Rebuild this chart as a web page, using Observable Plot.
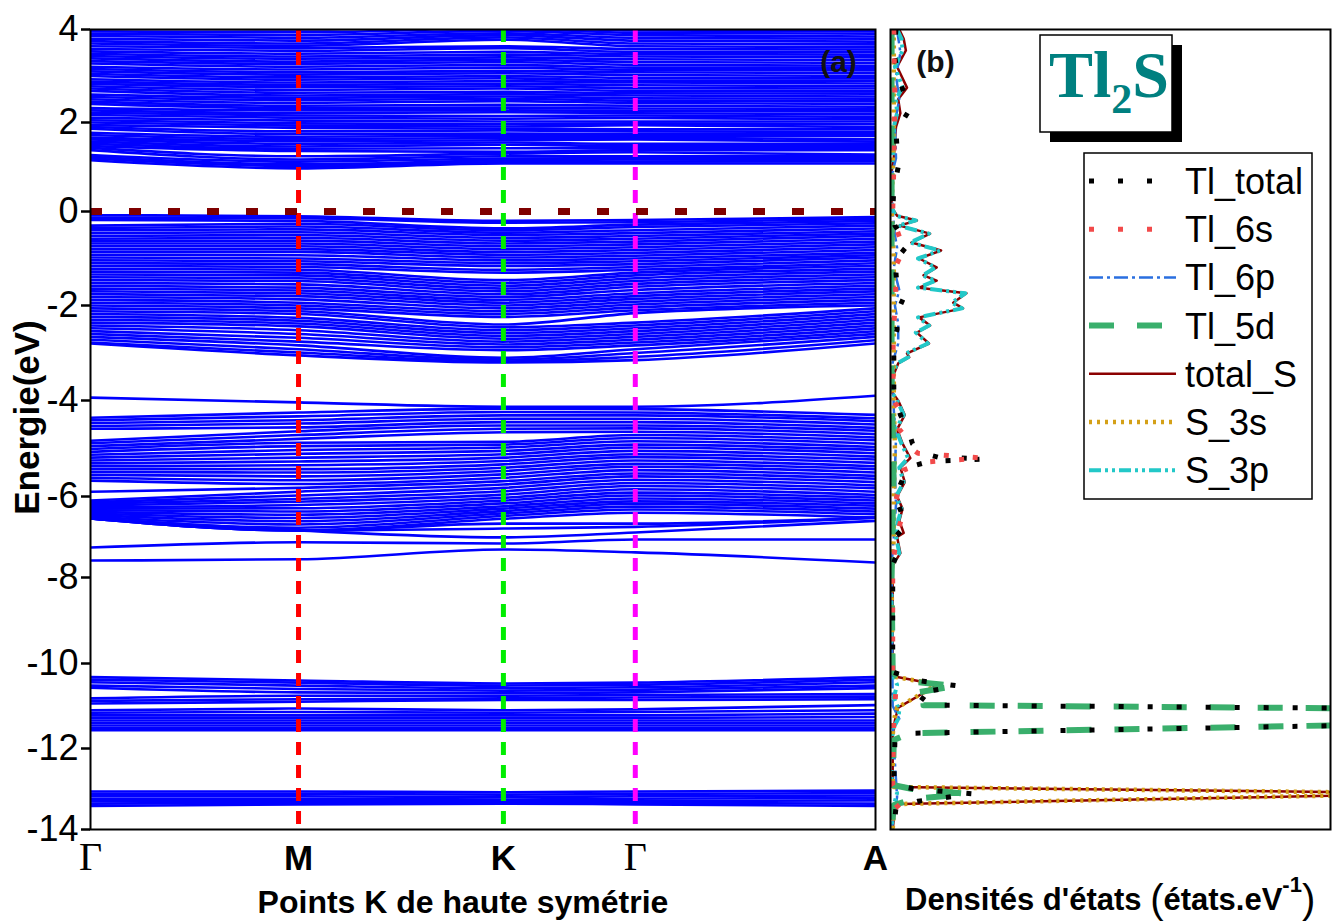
<!DOCTYPE html>
<html><head><meta charset="utf-8">
<script src="https://cdn.jsdelivr.net/npm/d3@7"></script>
<script src="https://cdn.jsdelivr.net/npm/@observablehq/plot@0.6"></script>
<style>
body{margin:0;background:#fff;}
#wrap{position:relative;width:1343px;height:922px;overflow:hidden;font-family:"Liberation Sans",Arial,sans-serif;}
</style></head><body><div id="wrap"></div>
<script>
// ---------- data ----------
const kLabels = ["Γ","M","K","Γ","A"];
const kPositions = [0, 0.265, 0.526, 0.694, 1];
const yTicks = [4,2,0,-2,-4,-6,-8,-10,-12,-14];
// rows of the energy ticks in the original figure (its energy axis is not evenly spaced)
const tickRows = [29,122,211,305,400,496,577,663,748,829];
const fermiLevel = [0];

// band energies (eV) at [Γ, M, K, Γ, A]
const conductionBands = [
 [1.15,0.97,1.08,1.08,1.08],[1.19,1.02,1.11,1.12,1.13],[1.23,1.06,1.15,1.17,1.16],[1.27,1.12,1.19,1.20,1.20],
 [1.38,1.17,1.24,1.24,1.25],[1.43,1.24,1.30,1.33,1.28],[1.47,1.36,1.34,1.38,1.38],[1.52,1.41,1.42,1.42,1.43],
 [1.57,1.46,1.50,1.47,1.48],[1.62,1.52,1.55,1.52,1.52],[1.66,1.58,1.60,1.62,1.57],[1.72,1.63,1.65,1.66,1.62],
 [1.77,1.68,1.70,1.70,1.70],[1.86,1.74,1.75,1.74,1.74],[1.90,1.80,1.82,1.80,1.79],[1.94,1.88,1.86,1.85,1.85],
 [2.00,1.93,1.91,1.94,1.90],[2.05,1.98,1.96,1.98,1.96],[2.10,2.04,2.02,2.02,2.02],[2.16,2.10,2.08,2.10,2.07],
 [2.21,2.15,2.14,2.15,2.12],[2.26,2.20,2.22,2.20,2.18],[2.31,2.26,2.26,2.25,2.24],[2.40,2.31,2.32,2.30,2.29],
 [2.45,2.36,2.38,2.36,2.34],[2.50,2.42,2.46,2.42,2.40],[2.55,2.48,2.51,2.47,2.46],[2.60,2.53,2.56,2.52,2.51],
 [2.68,2.58,2.61,2.58,2.56],[2.73,2.64,2.66,2.63,2.62],[2.78,2.70,2.73,2.68,2.67],[2.83,2.76,2.78,2.74,2.73],
 [2.88,2.81,2.83,2.80,2.78],[2.93,2.86,2.89,2.86,2.84],[3.00,2.92,2.95,2.90,2.90],[3.05,2.97,3.00,2.96,2.95],
 [3.10,3.03,3.06,3.02,3.00],[3.15,3.08,3.11,3.08,3.06],[3.20,3.14,3.18,3.13,3.12],[3.27,3.20,3.24,3.18,3.17],
 [3.32,3.26,3.30,3.24,3.22],[3.38,3.31,3.35,3.30,3.28],[3.43,3.37,3.40,3.36,3.34],[3.48,3.42,3.46,3.42,3.40],
 [3.53,3.48,3.52,3.47,3.46],[3.58,3.54,3.60,3.52,3.52],[3.64,3.60,3.64,3.58,3.57],[3.70,3.65,3.78,3.64,3.62],
 [3.75,3.70,3.83,3.70,3.68],[3.80,3.76,3.88,3.76,3.74],[3.86,3.82,3.92,3.82,3.80],[3.91,3.88,3.97,3.88,3.85],
 [3.96,3.94,4.02,3.93,3.91],[4.02,4.00,4.06,3.98,3.96],[4.08,4.06,4.12,4.04,4.02]
];
const valenceBands = [
 [-0.08,-0.10,-0.20,-0.18,-0.12],[-0.13,-0.14,-0.24,-0.23,-0.16],[-0.18,-0.20,-0.36,-0.28,-0.20],[-0.30,-0.26,-0.40,-0.33,-0.25],
 [-0.35,-0.32,-0.45,-0.40,-0.30],[-0.40,-0.38,-0.50,-0.46,-0.36],[-0.46,-0.44,-0.56,-0.52,-0.42],[-0.52,-0.50,-0.62,-0.58,-0.47],
 [-0.58,-0.56,-0.68,-0.64,-0.52],[-0.63,-0.62,-0.74,-0.70,-0.58],[-0.68,-0.68,-0.80,-0.76,-0.64],[-0.74,-0.74,-0.86,-0.82,-0.70],
 [-0.80,-0.80,-0.92,-0.88,-0.76],[-0.86,-0.86,-0.98,-0.94,-0.82],[-0.92,-0.93,-1.04,-1.00,-0.88],[-0.98,-1.00,-1.10,-1.06,-0.93],
 [-1.04,-1.06,-1.16,-1.12,-0.98],[-1.10,-1.12,-1.24,-1.18,-1.04],[-1.16,-1.18,-1.30,-1.24,-1.10],[-1.22,-1.24,-1.46,-1.30,-1.16],
 [-1.28,-1.30,-1.52,-1.36,-1.22],[-1.34,-1.36,-1.58,-1.42,-1.28],[-1.40,-1.42,-1.64,-1.48,-1.34],[-1.46,-1.48,-1.70,-1.54,-1.40],
 [-1.52,-1.55,-1.76,-1.60,-1.46],[-1.58,-1.62,-1.82,-1.67,-1.52],[-1.64,-1.68,-1.88,-1.74,-1.58],[-1.70,-1.74,-1.94,-1.80,-1.64],
 [-1.76,-1.80,-2.00,-1.86,-1.70],[-1.82,-1.87,-2.06,-1.92,-1.76],[-1.88,-1.94,-2.12,-1.98,-1.82],[-1.94,-2.00,-2.18,-2.04,-1.88],
 [-2.00,-2.06,-2.24,-2.10,-1.94],[-2.06,-2.12,-2.40,-2.16,-2.00],[-2.12,-2.18,-2.46,-2.36,-2.06],[-2.18,-2.26,-2.52,-2.42,-2.12],
 [-2.24,-2.32,-2.58,-2.48,-2.18],[-2.30,-2.38,-2.64,-2.54,-2.24],[-2.36,-2.44,-2.70,-2.60,-2.30],[-2.42,-2.52,-2.76,-2.66,-2.36],
 [-2.48,-2.60,-2.82,-2.72,-2.42],[-2.54,-2.68,-2.88,-2.78,-2.48],[-2.60,-2.76,-2.94,-2.84,-2.54],[-2.66,-2.84,-3.10,-2.92,-2.60],
 [-2.72,-2.92,-3.14,-3.00,-2.66],[-2.78,-2.99,-3.18,-3.08,-2.73],[-2.80,-3.05,-3.20,-3.15,-2.80]
];
const lowerValenceBands = [
 [-3.94,-4.04,-4.13,-4.13,-3.90],
 [-4.36,-4.25,-4.17,-4.18,-4.30],[-4.41,-4.33,-4.24,-4.25,-4.37],[-4.47,-4.41,-4.31,-4.31,-4.43],[-4.53,-4.48,-4.38,-4.38,-4.50],
 [-4.59,-4.56,-4.45,-4.45,-4.57],[-4.84,-4.64,-4.52,-4.52,-4.63],[-4.89,-4.72,-4.59,-4.58,-4.70],[-4.95,-4.80,-4.66,-4.65,-4.77],
 [-5.01,-4.88,-4.86,-4.72,-4.83],[-5.07,-4.95,-4.92,-4.78,-4.90],[-5.13,-5.03,-4.98,-4.85,-4.97],[-5.19,-5.11,-5.05,-4.92,-5.03],
 [-5.25,-5.19,-5.12,-4.98,-5.10],[-5.31,-5.27,-5.19,-5.05,-5.17],[-5.37,-5.35,-5.26,-5.12,-5.23],[-5.43,-5.43,-5.33,-5.18,-5.30],
 [-5.49,-5.50,-5.40,-5.25,-5.37],[-5.55,-5.58,-5.47,-5.32,-5.43],[-5.61,-5.66,-5.54,-5.38,-5.50],[-5.67,-5.74,-5.61,-5.45,-5.57],
 [-5.90,-5.82,-5.68,-5.52,-5.63],[-6.10,-5.90,-5.75,-5.58,-5.70],[-6.14,-5.98,-5.82,-5.65,-5.77],[-6.18,-6.06,-5.89,-5.72,-5.83],
 [-6.22,-6.13,-5.96,-5.78,-5.90],[-6.26,-6.21,-6.03,-5.85,-5.97],[-6.30,-6.29,-6.10,-5.92,-6.03],[-6.34,-6.37,-6.17,-5.98,-6.10],
 [-6.38,-6.45,-6.24,-6.05,-6.17],[-6.42,-6.53,-6.30,-6.12,-6.23],[-6.46,-6.61,-6.36,-6.18,-6.30],[-6.50,-6.69,-6.42,-6.25,-6.37],
 [-6.54,-6.77,-6.48,-6.32,-6.44],[-6.54,-6.84,-6.55,-6.40,-6.52],
 [-6.54,-6.84,-6.67,-6.67,-6.52],[-6.54,-6.84,-6.79,-6.75,-6.52],[-6.54,-6.84,-7.01,-6.89,-6.60],
 [-7.26,-7.13,-7.16,-7.06,-7.06],[-7.58,-7.55,-7.31,-7.38,-7.63]
];
const semicoreBands = [
 [-10.32,-10.40,-10.47,-10.45,-10.32],[-10.38,-10.45,-10.52,-10.50,-10.38],[-10.44,-10.52,-10.58,-10.56,-10.44],
 [-10.52,-10.60,-10.64,-10.62,-10.52],[-10.57,-10.68,-10.70,-10.68,-10.58],[-10.82,-10.76,-10.76,-10.74,-10.72],
 [-10.88,-10.84,-10.82,-10.80,-10.78],[-10.94,-10.90,-10.86,-10.86,-10.84],[-11.10,-11.06,-11.10,-11.08,-10.98],
 [-11.16,-11.14,-11.16,-11.14,-11.10],[-11.22,-11.22,-11.22,-11.22,-11.18],[-11.28,-11.28,-11.28,-11.28,-11.26],
 [-11.34,-11.34,-11.34,-11.34,-11.34],[-11.40,-11.40,-11.40,-11.40,-11.40],[-11.46,-11.46,-11.46,-11.46,-11.46],
 [-11.52,-11.52,-11.52,-11.52,-11.52],[-11.57,-11.57,-11.57,-11.57,-11.57]
];
const deepBands = [
 [-13.06,-13.06,-13.08,-13.06,-13.04],[-13.12,-13.12,-13.14,-13.12,-13.10],[-13.18,-13.18,-13.20,-13.18,-13.16],
 [-13.24,-13.24,-13.26,-13.24,-13.22],[-13.30,-13.30,-13.30,-13.30,-13.28],[-13.36,-13.34,-13.34,-13.34,-13.36],
 [-13.42,-13.38,-13.36,-13.38,-13.42]
];

// DOS: [energy (eV), states/eV]
const dosTlTotal = [[4,0.5],[3.5,0.3],[2.9,0.8],[2.3,1.8],[1.8,0.5],[1.0,0.7],[0.5,0.3],[0.0,0.2],[-0.3,0.4],[-0.47,0.9],[-0.7,0.5],[-0.87,1.4],[-1.1,0.6],[-1.32,0.5],[-1.6,0.6],[-1.83,1.2],[-2.2,0.5],[-2.5,0.6],[-2.8,0.3],[-3.2,0.3],[-3.8,0.3],[-4.3,0.9],[-4.6,1.6],[-4.9,2.0],[-5.1,3.0],[-5.18,4.3],[-5.22,8.6],[-5.27,3.5],[-5.4,1.5],[-5.7,1.0],[-6.0,0.4],[-6.4,1.0],[-6.7,1.5],[-7.0,0.4],[-7.4,0.6],[-7.7,0.2],[-10.2,0.2],[-10.4,2.5],[-10.53,6.2],[-10.7,2.3],[-10.9,3.3],[-10.98,3.3],[-11.17,104],[-11.64,2.0],[-11.8,0.4],[-12.9,0.3],[-13.0,2.2],[-13.12,7.5],[-13.3,2.5],[-13.45,0.5],[-14,0.3]];
const dosTl6s = [[4,0.3],[2.5,0.4],[1,0.3],[0,0.2],[-0.4,0.6],[-0.8,1.2],[-1.2,0.4],[-1.8,0.5],[-2.4,0.3],[-3.2,0.2],[-4.0,0.3],[-4.36,1.2],[-4.6,0.8],[-4.77,1.4],[-4.98,1.8],[-5.1,2.5],[-5.2,8.4],[-5.28,3.2],[-5.45,1.2],[-5.8,0.8],[-6.2,0.4],[-6.55,1.0],[-6.9,0.6],[-7.3,0.4],[-7.7,0.2],[-10.3,0.2],[-10.6,0.5],[-11.3,0.3],[-12.9,0.2],[-13.3,1.2],[-13.5,0.3],[-14,0.2]];
const dosTl6p = [[4,0.6],[3.5,0.9],[3.0,0.5],[2.5,0.8],[2.0,0.4],[1.2,0.5],[0.8,0.1],[0,0.2],[-0.5,0.4],[-0.77,0.6],[-1.2,0.3],[-1.68,0.8],[-2.0,0.4],[-2.38,0.7],[-2.8,0.7],[-3.2,0.2],[-4.2,0.3],[-4.8,0.5],[-5.5,0.4],[-6.2,0.5],[-7.0,0.3],[-7.7,0.1],[-11.0,0.2],[-11.3,0.8],[-11.5,0.2],[-13.2,0.6],[-14,0.1]];
const dosTl5d = [[4,0.1],[0,0.1],[-4,0.1],[-5.2,0.3],[-8,0.1],[-10.2,0.2],[-10.4,1.0],[-10.53,5.9],[-10.7,2.0],[-10.9,3.0],[-10.98,3.0],[-11.17,100],[-11.64,1.8],[-11.8,0.3],[-12.9,0.2],[-13.0,2.0],[-13.12,7.0],[-13.25,2.0],[-13.4,0.3],[-14,0.1]];
const dosTotalS = [[4,0.8],[3.8,1.2],[3.55,1.4],[3.2,0.6],[2.75,1.5],[2.5,0.7],[2.2,0.9],[1.9,0.5],[1.6,0.4],[1.2,0.3],[0.9,0.1],[0.1,0.1],[-0.09,0.6],[-0.19,2.4],[-0.30,0.8],[-0.47,3.6],[-0.66,1.9],[-0.83,4.6],[-1.0,2.6],[-1.19,4.2],[-1.36,3.0],[-1.47,4.2],[-1.62,2.6],[-1.74,6.9],[-1.94,5.7],[-2.06,6.6],[-2.25,2.6],[-2.42,3.6],[-2.57,2.4],[-2.8,3.5],[-3.01,1.5],[-3.09,1.7],[-3.22,0.7],[-3.5,0.2],[-3.85,0.2],[-4.0,0.7],[-4.3,1.3],[-4.6,0.6],[-4.9,1.1],[-5.2,1.8],[-5.4,0.9],[-5.7,1.3],[-6.0,0.6],[-6.3,1.1],[-6.6,0.8],[-6.9,1.2],[-7.0,0.6],[-7.4,0.9],[-7.7,0.2],[-10.2,0.2],[-10.31,0.5],[-10.5,4.3],[-11.04,0.7],[-11.34,0.4],[-11.7,0.2],[-12.8,0.2],[-12.95,0.4],[-13.11,51],[-13.37,0.9],[-13.5,0.4],[-14,0.2]];
const dosS3s = [[4,0.3],[3,0.3],[2,0.3],[1,0.2],[0,0.1],[-1,0.3],[-2,0.3],[-3,0.3],[-4,0.3],[-5,0.4],[-6,0.3],[-7,0.3],[-8,0.1],[-10.2,0.2],[-10.31,0.4],[-10.5,4.2],[-11.04,0.6],[-11.34,0.3],[-11.7,0.2],[-12.8,0.2],[-12.95,0.3],[-13.11,50],[-13.37,0.8],[-13.5,0.3],[-14,0.2]];
const dosS3p = [[4,0.6],[3.8,1.0],[3.55,1.1],[3.2,0.4],[2.75,1.1],[2.5,0.5],[2.2,0.6],[1.9,0.3],[1.6,0.3],[1.2,0.2],[0.9,0.1],[0.1,0.1],[-0.09,0.45],[-0.19,2.3],[-0.30,0.7],[-0.47,3.5],[-0.66,1.8],[-0.83,4.5],[-1.0,2.5],[-1.19,4.1],[-1.36,2.9],[-1.47,4.1],[-1.62,2.5],[-1.74,6.8],[-1.94,5.6],[-2.06,6.5],[-2.25,2.5],[-2.42,3.5],[-2.57,2.3],[-2.8,3.4],[-3.01,1.4],[-3.09,1.6],[-3.22,0.6],[-3.5,0.1],[-3.85,0.2],[-4.0,0.6],[-4.3,1.2],[-4.6,0.5],[-4.9,1.0],[-5.2,1.6],[-5.4,0.8],[-5.7,1.2],[-6.0,0.5],[-6.3,1.0],[-6.6,0.7],[-7.0,0.5],[-7.4,0.8],[-7.7,0.1],[-9,0.1],[-10.2,0.1],[-10.5,0.6],[-10.8,0.3],[-11.1,0.8],[-11.3,0.7],[-11.5,0.3],[-11.8,0.1],[-12.8,0.1],[-13.1,0.6],[-13.4,0.3],[-14,0.1]];

const seriesNames = ["Tl_total","Tl_6s","Tl_6p","Tl_5d","total_S","S_3s","S_3p"];
const seriesData = {Tl_total: dosTlTotal, Tl_6s: dosTl6s, Tl_6p: dosTl6p, Tl_5d: dosTl5d, total_S: dosTotalS, S_3s: dosS3s, S_3p: dosS3p};
const seriesStyle = {
  Tl_total: {stroke:"#000000", width:5, dash:"5,24"},
  Tl_6s:   {stroke:"#f24a4a", width:5, dash:"5,24"},
  Tl_6p:   {stroke:"#2a6fe0", width:2.5, dash:"14,4,3,4"},
  Tl_5d:   {stroke:"#3aaf6c", width:6, dash:"25,23"},
  total_S: {stroke:"#8b0000", width:2.5, dash:null},
  S_3s:    {stroke:"#d4a017", width:4.5, dash:"3,5"},
  S_3p:    {stroke:"#22c8c8", width:4, dash:"12,4,3,4,3,4"}
};
const drawOrder = ["total_S","Tl_6p","S_3p","S_3s","Tl_5d","Tl_total","Tl_6s"];

// ---------- build ----------
const wrap = document.getElementById("wrap");
const energyWarp = d3.scaleLinear().domain(yTicks).range(tickRows);
const yScale = {transform: energyWarp, domain: [tickRows[tickRows.length - 1], tickRows[0]], axis: null};

const bandGroups = [conductionBands, valenceBands, lowerValenceBands, semicoreBands, deepBands];
const bandRows = bandGroups.flatMap((g, gi) => g.flatMap((b, bi) => b.map((e, ki) => ({k: kPositions[ki], e, band: gi + "-" + bi}))));
const kRows = kLabels.map((label, i) => ({k: kPositions[i], label}));
const vColors = ["#ff0000", "#00ee00", "#ff00ff"];

const left = Plot.plot({
  width: 880, height: 922, marginLeft: 90, marginRight: 5, marginTop: 29, marginBottom: 93,
  x: {domain: [0, 1], axis: null},
  y: yScale,
  style: {fontFamily: "'Liberation Sans', Arial, sans-serif", background: "transparent", overflow: "visible"},
  marks: [
    Plot.line(bandRows, {x: "k", y: "e", z: "band", stroke: "#0000ff", strokeWidth: 2.6, curve: "monotone-x", clip: true}),
    ...kPositions.slice(1, 4).map((k, i) => Plot.ruleX([k], {stroke: vColors[i], strokeWidth: 5, strokeDasharray: "13,10"})),
    Plot.ruleY(fermiLevel, {stroke: "#7f0000", strokeWidth: 7, strokeDasharray: "12,27"}),
    Plot.frame({stroke: "#000", strokeWidth: 2}),
    Plot.axisY(yTicks, {tickFormat: d => String(d), tickSize: 9, tickPadding: 3, fontSize: 36, strokeWidth: 2.5, stroke: "#000", fill: "#000", label: null}),
    Plot.text(kRows.filter(d => d.label === "Γ"), {x: "k", text: "label", frameAnchor: "bottom", lineAnchor: "bottom", textAnchor: "middle", dy: 40, fontSize: 40, fontFamily: "'Liberation Serif', 'Times New Roman', serif", fill: "#000"}),
    Plot.text(kRows.filter(d => d.label !== "Γ"), {x: "k", text: "label", frameAnchor: "bottom", lineAnchor: "bottom", textAnchor: "middle", dy: 40, fontSize: 35, fontWeight: "bold", fill: "#000"}),
    Plot.text(["Energie(eV)"], {text: d => d, frameAnchor: "left", rotate: -90, dx: -63, dy: -12, textAnchor: "middle", lineAnchor: "middle", fontSize: 35, fontWeight: "bold", fill: "#000"}),
    Plot.text(["(a)"], {text: d => d, frameAnchor: "top-right", dx: -37, dy: 33, textAnchor: "middle", lineAnchor: "middle", fontSize: 30, fontWeight: "bold", fill: "#111"})
  ]
});
left.style.position = "absolute"; left.style.left = "0px"; left.style.top = "0px";
wrap.appendChild(left);

const right = Plot.plot({
  width: 463, height: 922, marginLeft: 10, marginRight: 13, marginTop: 29, marginBottom: 93,
  x: {domain: [0, 40], axis: null},
  y: yScale,
  style: {fontFamily: "'Liberation Sans', Arial, sans-serif", background: "transparent", overflow: "visible"},
  marks: [
    ...drawOrder.map(name => Plot.line(seriesData[name], {
      x: d => d[1], y: d => d[0], stroke: seriesStyle[name].stroke, strokeWidth: seriesStyle[name].width,
      strokeDasharray: seriesStyle[name].dash || undefined, curve: "linear", clip: true, strokeLinecap: "butt"})),
    Plot.frame({stroke: "#000", strokeWidth: 2}),
    Plot.text(["(b)"], {text: d => d, frameAnchor: "top-left", dx: 45, dy: 33, textAnchor: "middle", lineAnchor: "middle", fontSize: 30, fontWeight: "bold", fill: "#111"})
  ]
});
right.style.position = "absolute"; right.style.left = "880px"; right.style.top = "0px";
wrap.appendChild(right);

// ---------- overlay: title box, legend, axis titles ----------
const ov = d3.create("svg").attr("width", 1343).attr("height", 922)
  .style("position", "absolute").style("left", "0px").style("top", "0px").style("pointer-events", "none");

ov.append("rect").attr("x", 1050).attr("y", 45).attr("width", 132).attr("height", 97).attr("fill", "#000");
ov.append("rect").attr("x", 1040).attr("y", 35).attr("width", 132).attr("height", 97).attr("fill", "#fff").attr("stroke", "#000").attr("stroke-width", 1.5);
const tt = ov.append("text").attr("x", 1109).attr("y", 97).attr("text-anchor", "middle")
  .attr("font-family", "'Liberation Serif','Times New Roman',serif").attr("font-weight", "bold").attr("font-size", 66).attr("fill", "#008080");
tt.append("tspan").text("Tl");
tt.append("tspan").attr("font-size", 42).attr("dy", 16).text("2");
tt.append("tspan").attr("dy", -16).text("S");

ov.append("rect").attr("x", 1084).attr("y", 153).attr("width", 228).attr("height", 346).attr("fill", "#fff").attr("stroke", "#000").attr("stroke-width", 1.5);
seriesNames.forEach((name, i) => {
  const y = 181 + i * 48.2, s = seriesStyle[name];
  ov.append("line").attr("x1", 1089).attr("x2", 1176).attr("y1", y).attr("y2", y)
    .attr("stroke", s.stroke).attr("stroke-width", s.width).attr("stroke-dasharray", s.dash);
  ov.append("text").attr("x", 1185).attr("y", y + 13).attr("font-size", 36)
    .attr("font-family", "'Liberation Sans',Arial,sans-serif").attr("fill", "#000").text(name);
});

ov.append("text").attr("x", 463).attr("y", 913).attr("text-anchor", "middle").attr("font-size", 32).attr("font-weight", "bold")
  .attr("font-family", "'Liberation Sans',Arial,sans-serif").attr("fill", "#000").text("Points K de haute symétrie");
const dt = ov.append("text").attr("x", 905).attr("y", 910).attr("font-size", 31).attr("font-weight", "bold")
  .attr("font-family", "'Liberation Sans',Arial,sans-serif").attr("fill", "#000");
dt.append("tspan").text("Densités d'états ");
dt.append("tspan").attr("font-size", 40).attr("font-weight", "normal").attr("dy", 3).text("(");
dt.append("tspan").attr("dy", -3).text("états.eV");
dt.append("tspan").attr("font-size", 22).attr("dy", -18).text("-1");
dt.append("tspan").attr("font-size", 40).attr("font-weight", "normal").attr("dy", 21).text(")");
wrap.appendChild(ov.node());
</script></body></html>
